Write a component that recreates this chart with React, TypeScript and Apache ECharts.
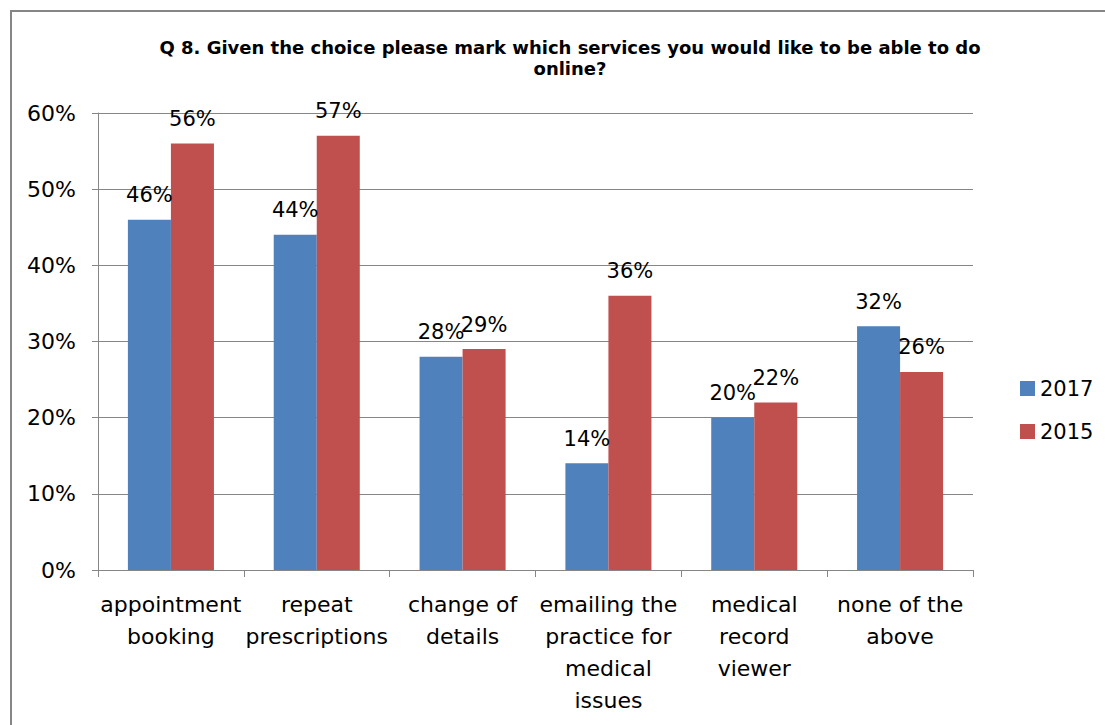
import React, { useEffect, useRef } from "react";
import * as echarts from "echarts";

const categories = [
  "appointment\nbooking",
  "repeat\nprescriptions",
  "change of\ndetails",
  "emailing the\npractice for\nmedical\nissues",
  "medical\nrecord\nviewer",
  "none of the\nabove",
];
const values2017 = [46, 44, 28, 14, 20, 32];
const values2015 = [56, 57, 29, 36, 22, 26];
const seriesNames = ["2017", "2015"];
const titleText =
  "Q 8. Given the choice please mark which services you would like to be able to do\nonline?";

const FONT = "'DejaVu Sans', sans-serif";

export default function App() {
  const ref = useRef<HTMLDivElement>(null);
  useEffect(() => {
    if (!ref.current) return;
    const chart = echarts.init(ref.current, null, { renderer: "svg" });
    const label = {
      show: true,
      position: "top",
      distance: 14,
      formatter: "{c}%",
      fontFamily: FONT,
      fontSize: 21,
      color: "#000",
    };
    chart.setOption({
      animation: false,
      backgroundColor: "#fff",
      title: {
        text: titleText,
        left: 565,
        top: 32,
        textAlign: "center",
        textStyle: {
          fontFamily: FONT,
          fontWeight: "bold",
          fontSize: 18,
          lineHeight: 21,
          color: "#000",
        },
      },
      legend: {
        orient: "vertical",
        left: 1015,
        top: 373,
        itemWidth: 15,
        itemHeight: 15,
        itemGap: 22,
        icon: "rect",
        textStyle: { fontFamily: FONT, fontSize: 21, color: "#000" },
        data: seriesNames,
      },
      graphic: [
        {
          type: "rect",
          shape: { x: 11, y: 11, width: 1200, height: 800 },
          style: { fill: "none", stroke: "#868686", lineWidth: 2 },
          silent: true,
        },
      ],
      grid: { left: 98, right: 132, top: 113, bottom: 155 },
      xAxis: {
        type: "category",
        data: categories,
        axisLine: { lineStyle: { color: "#868686", width: 1 } },
        axisTick: { show: true, length: 7, lineStyle: { color: "#868686" } },
        axisLabel: {
          interval: 0,
          margin: 18,
          fontFamily: FONT,
          fontSize: 22,
          lineHeight: 32,
          color: "#000",
        },
      },
      yAxis: {
        type: "value",
        min: 0,
        max: 60,
        interval: 10,
        axisLine: { show: true, lineStyle: { color: "#868686", width: 1 } },
        axisTick: { show: true, length: 6, lineStyle: { color: "#868686" } },
        splitLine: { lineStyle: { color: "#868686", width: 1 } },
        axisLabel: {
          formatter: "{value}%",
          margin: 22,
          fontFamily: FONT,
          fontSize: 22,
          color: "#000",
        },
      },
      series: [
        {
          name: seriesNames[0],
          type: "bar",
          data: values2017,
          barGap: "0%",
          barCategoryGap: "41%",
          itemStyle: { color: "#4F81BD" },
          label,
        },
        {
          name: seriesNames[1],
          type: "bar",
          data: values2015,
          barGap: "0%",
          barCategoryGap: "41%",
          itemStyle: { color: "#C0504D" },
          label,
        },
      ],
    });
    return () => chart.dispose();
  }, []);
  return (
    <div
      ref={ref}
      style={{ position: "fixed", left: 0, top: 0, width: 1105, height: 725 }}
    />
  );
}
